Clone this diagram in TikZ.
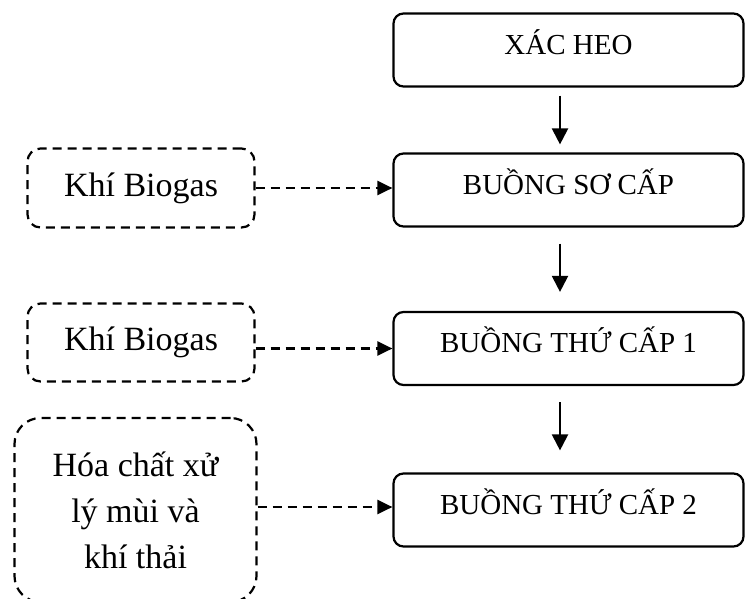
\documentclass[tikz,border=0pt]{standalone}
\usepackage{fontspec}
\setmainfont{Liberation Serif}
\usetikzlibrary{arrows.meta}
\tikzset{
  rbox/.style={draw, line width=2.2pt, rounded corners=10pt, minimum width=350pt, minimum height=73pt,
    inner sep=0pt, font=\fontsize{29}{34}\selectfont, text height=20pt, text depth=12pt},
  lbox/.style={draw, line width=2.2pt, dash pattern=on 9pt off 6pt, rounded corners=13pt,
    minimum width=227pt, minimum height=79pt, inner sep=0pt, font=\fontsize{34}{46}\selectfont},
  flow/.style={line width=2.2pt, -{Triangle[length=16pt,width=16pt]}},
  feed/.style={line width=2.2pt, dash pattern=on 9pt off 6pt, -{Triangle[length=15pt,width=14pt]}},
}
\begin{document}
\begin{tikzpicture}[x=1pt,y=-1pt]
\clip (0,0) rectangle (745,598);
\useasboundingbox (0,0) rectangle (745,598);
% main column
\node[rbox] (b1) at (568.5,50) {XÁC HEO};
\node[rbox] (b2) at (568.5,190) {BUỒNG SƠ CẤP};
\node[rbox] (b3) at (568.5,348.5) {BUỒNG THỨ CẤP 1};
\node[rbox] (b4) at (568.5,510) {BUỒNG THỨ CẤP 2};
% side inputs
\node[lbox] (l1) at (141,188) {Khí Biogas};
\node[lbox, minimum height=78pt] (l2) at (141,342.5) {Khí Biogas};
\node[lbox, minimum width=242pt, minimum height=184pt, rounded corners=26pt, align=center]
  (l3) at (135.5,510) {Hóa chất xử\\lý mùi và\\khí thải};
% vertical arrows
\draw[flow, shorten <=8pt, shorten >=8pt] ([xshift=-8.5pt]b1.south) -- ([xshift=-8.5pt]b2.north);
\draw[flow, shorten <=16pt, shorten >=19pt] ([xshift=-8.5pt]b2.south) -- ([xshift=-8.5pt]b3.north);
\draw[flow, shorten <=16pt, shorten >=22pt] ([xshift=-8.5pt]b3.south) -- ([xshift=-8.5pt]b4.north);
% dashed feeds
\draw[feed] ([yshift=2pt]b2.west -| l1.east) -- ([yshift=2pt]b2.west);
\draw[feed] (b3.west -| l2.east) -- (b3.west);
\draw[feed] ([yshift=3pt]b4.west -| l3.east) -- ([yshift=3pt]b4.west);
\end{tikzpicture}
\end{document}
